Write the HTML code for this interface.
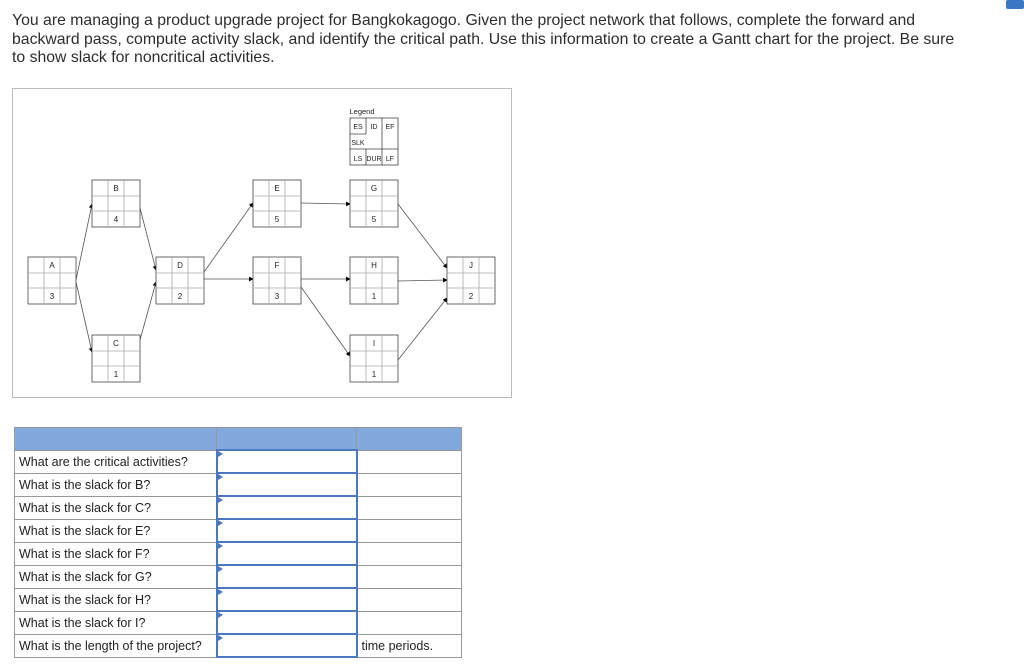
<!DOCTYPE html>
<html><head><style>
body{margin:0;width:1024px;height:668px;background:#fff;font-family:"Liberation Sans",sans-serif;position:relative;overflow:hidden}
.p{position:absolute;left:12px;top:12px;width:950px;font-size:15.8px;line-height:18.5px;color:#2d2d2d}
.tab{position:absolute;border-collapse:collapse;left:14px;top:427px}
.tab td{border:1px solid #999;height:21px;padding:0 4px;font-size:12.5px;line-height:14px;color:#222}
.tab tr.h td{background:#82a9de}
.tab td.in{border:2px solid #4a78c0;position:relative}
.tab td.in:before{content:"";position:absolute;left:0;top:0;border-left:5px solid #4a78c0;border-top:3px solid transparent;border-bottom:3px solid transparent}
</style></head><body>
<div style="position:absolute;right:0;top:0;width:18px;height:9px;background:#3a76c4;border-radius:2px"></div>
<div class="p">You are managing a product upgrade project for Bangkokagogo. Given the project network that follows, complete the forward and backward pass, compute activity slack, and identify the critical path. Use this information to create a Gantt chart for the project. Be sure to show slack for noncritical activities.</div>
<svg style="position:absolute;left:0;top:0" width="1024" height="668">
<defs><marker id="a" markerWidth="6" markerHeight="6" refX="5" refY="3" orient="auto"><path d="M0,0L6,3L0,6z" fill="#000"/></marker></defs>
<rect x="12.5" y="88.5" width="499" height="309" fill="#fff" stroke="#bbb"/>
<g stroke="#555" stroke-width="0.8" fill="none" marker-end="url(#a)">
<line x1="76" y1="280" x2="92" y2="204"/>
<line x1="76" y1="282" x2="92" y2="352"/>
<line x1="140" y1="208" x2="156" y2="270"/>
<line x1="140" y1="340" x2="156" y2="282"/>
<line x1="204" y1="272" x2="253" y2="203"/>
<line x1="204" y1="279" x2="253" y2="279"/>
<line x1="301" y1="203" x2="350" y2="204"/>
<line x1="301" y1="279" x2="350" y2="279"/>
<line x1="301" y1="287" x2="350" y2="356"/>
<line x1="398" y1="204" x2="447" y2="268"/>
<line x1="398" y1="281" x2="447" y2="280"/>
<line x1="398" y1="360" x2="447" y2="298"/>
</g>
<g stroke="#444" stroke-width="0.8" fill="#fff">
<g transform="translate(28,257)"><rect width="48" height="47"/><path d="M16,0V47M32,0V47M0,16H48M0,31H48" stroke="#aaa"/></g>
<g transform="translate(92,180)"><rect width="48" height="47"/><path d="M16,0V47M32,0V47M0,16H48M0,31H48" stroke="#aaa"/></g>
<g transform="translate(92,335)"><rect width="48" height="47"/><path d="M16,0V47M32,0V47M0,16H48M0,31H48" stroke="#aaa"/></g>
<g transform="translate(156,257)"><rect width="48" height="47"/><path d="M16,0V47M32,0V47M0,16H48M0,31H48" stroke="#aaa"/></g>
<g transform="translate(253,180)"><rect width="48" height="47"/><path d="M16,0V47M32,0V47M0,16H48M0,31H48" stroke="#aaa"/></g>
<g transform="translate(253,257)"><rect width="48" height="47"/><path d="M16,0V47M32,0V47M0,16H48M0,31H48" stroke="#aaa"/></g>
<g transform="translate(350,180)"><rect width="48" height="47"/><path d="M16,0V47M32,0V47M0,16H48M0,31H48" stroke="#aaa"/></g>
<g transform="translate(350,257)"><rect width="48" height="47"/><path d="M16,0V47M32,0V47M0,16H48M0,31H48" stroke="#aaa"/></g>
<g transform="translate(350,335)"><rect width="48" height="47"/><path d="M16,0V47M32,0V47M0,16H48M0,31H48" stroke="#aaa"/></g>
<g transform="translate(447,257)"><rect width="48" height="47"/><path d="M16,0V47M32,0V47M0,16H48M0,31H48" stroke="#aaa"/></g>
<g transform="translate(350,118)"><rect width="48" height="47"/><path d="M16,0V16M16,31V47M32,0V47M0,16H16M0,31H48" stroke="#444"/></g>
</g>
<g font-family="Liberation Sans, sans-serif" font-size="8" text-anchor="middle" fill="#222">
<text x="52" y="268">A</text><text x="52" y="299">3</text>
<text x="116" y="191">B</text><text x="116" y="222">4</text>
<text x="116" y="346">C</text><text x="116" y="377">1</text>
<text x="180" y="268">D</text><text x="180" y="299">2</text>
<text x="277" y="191">E</text><text x="277" y="222">5</text>
<text x="277" y="268">F</text><text x="277" y="299">3</text>
<text x="374" y="191">G</text><text x="374" y="222">5</text>
<text x="374" y="268">H</text><text x="374" y="299">1</text>
<text x="374" y="346">I</text><text x="374" y="377">1</text>
<text x="471" y="268">J</text><text x="471" y="299">2</text>
<text x="362" y="114" font-size="7.5">Legend</text>
<text x="358" y="129" font-size="7">ES</text><text x="374" y="129" font-size="7">ID</text><text x="390" y="129" font-size="7">EF</text>
<text x="358" y="145" font-size="7">SLK</text>
<text x="358" y="161" font-size="7">LS</text><text x="374" y="161" font-size="7">DUR</text><text x="390" y="161" font-size="7">LF</text>
</g>
</svg>
<table class="tab">
<tr class="h"><td style="width:193px"></td><td style="width:131px"></td><td style="width:96px"></td></tr>
<tr><td>What are the critical activities?</td><td class="in"></td><td></td></tr>
<tr><td>What is the slack for B?</td><td class="in"></td><td></td></tr>
<tr><td>What is the slack for C?</td><td class="in"></td><td></td></tr>
<tr><td>What is the slack for E?</td><td class="in"></td><td></td></tr>
<tr><td>What is the slack for F?</td><td class="in"></td><td></td></tr>
<tr><td>What is the slack for G?</td><td class="in"></td><td></td></tr>
<tr><td>What is the slack for H?</td><td class="in"></td><td></td></tr>
<tr><td>What is the slack for I?</td><td class="in"></td><td></td></tr>
<tr><td>What is the length of the project?</td><td class="in"></td><td>time periods.</td></tr>
</table>
</body></html>
